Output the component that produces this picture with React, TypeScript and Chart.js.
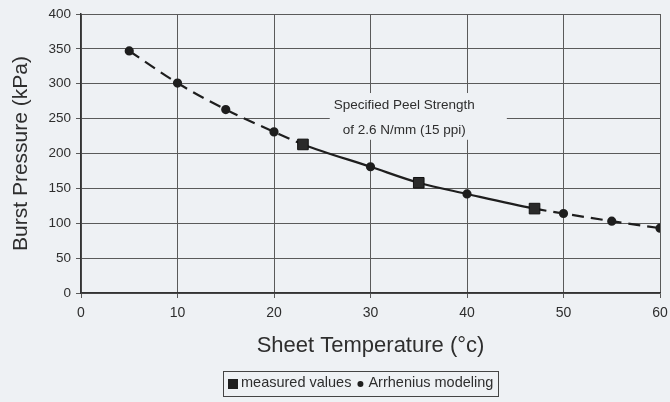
import React, { useEffect, useRef } from "react";
import { Chart, registerables } from "chart.js";

Chart.register(...registerables);

const modelTemps = [5, 10, 15, 20, 23, 30, 35, 40, 47, 50, 55, 60];
const modelPressure = [347, 301, 263, 231, 213, 181, 158, 142, 121, 114, 103, 93];
const measuredTemps = [23, 35, 47];
const measuredPressure = [213, 158, 121];
const solidFrom = 23;
const solidTo = 47;
const noteLines = ["Specified Peel Strength", "of 2.6 N/mm (15 ppi)"];
const noteAt = { x: 33.5, y1: 269.5, y2: 234 };

const BG = "#eef1f4";
const INK = "#2e2e2e";
const FONT = "'Liberation Sans', Arial, sans-serif";

const notePlugin = {
  id: "note",
  afterDatasetsDraw(chart: any) {
    const { ctx, scales } = chart;
    const x = scales.x.getPixelForValue(noteAt.x);
    const ys = [scales.y.getPixelForValue(noteAt.y1), scales.y.getPixelForValue(noteAt.y2)];
    ctx.save();
    ctx.font = `13.5px ${FONT}`;
    ctx.textAlign = "center";
    ctx.textBaseline = "middle";
    const w = Math.max(...noteLines.map((t: string) => ctx.measureText(t).width));
    ctx.fillStyle = BG;
    ctx.fillRect(x - w / 2 - 4, ys[0] - 12, w + 36, ys[1] - ys[0] + 22);
    ctx.fillStyle = INK;
    noteLines.forEach((t: string, i: number) => ctx.fillText(t, x, ys[i]));
    ctx.restore();
  },
};

// legend drawn at the bottom, centred under the plot
const legendPlugin = {
  id: "boxLegend",
  afterDraw(chart: any) {
    const { ctx } = chart;
    const labels = chart.data.datasets.map((d: any) => d.label);
    ctx.save();
    ctx.font = `14.5px ${FONT}`;
    ctx.textBaseline = "middle";
    const sq = 10;
    const dotR = 3;
    const w0 = ctx.measureText(labels[0]).width;
    const w1 = ctx.measureText(labels[1]).width;
    const total = 5 + sq + 3 + w0 + 6 + dotR * 2 + 5 + w1 + 5;
    const cx = 361;
    const cy = 383;
    const left = Math.round(cx - total / 2);
    const top = cy - 12.5;
    ctx.fillStyle = BG;
    ctx.fillRect(left, top, total, 25);
    ctx.strokeStyle = "#444";
    ctx.lineWidth = 1;
    ctx.strokeRect(left + 0.5, Math.round(top) + 0.5, Math.round(total), 25);
    let x = left + 5;
    ctx.fillStyle = "#1e1e1e";
    ctx.fillRect(x, cy - sq / 2 + 1, sq, sq);
    x += sq + 3;
    ctx.fillStyle = INK;
    ctx.fillText(labels[0], x, cy);
    x += w0 + 6;
    ctx.fillStyle = "#1e1e1e";
    ctx.beginPath();
    ctx.arc(x + dotR, cy + 1, dotR, 0, Math.PI * 2);
    ctx.fill();
    x += dotR * 2 + 5;
    ctx.fillStyle = INK;
    ctx.fillText(labels[1], x, cy);
    ctx.restore();
  },
};

const bgPlugin = {
  id: "bg",
  beforeDraw(chart: any) {
    const { ctx, width, height } = chart;
    ctx.save();
    ctx.fillStyle = BG;
    ctx.fillRect(0, 0, width, height);
    ctx.restore();
  },
};

export default function App() {
  const ref = useRef<HTMLCanvasElement>(null);
  useEffect(() => {
    document.body.style.margin = "0";
    document.body.style.background = BG;
    const chart = new Chart(ref.current as HTMLCanvasElement, {
      type: "scatter",
      data: {
        datasets: [
          {
            label: "measured values",
            data: measuredTemps.map((x, i) => ({ x, y: measuredPressure[i] })),
            showLine: false,
            pointStyle: "rect",
            pointRadius: 7.5,
            backgroundColor: "#2a2a2a",
            borderColor: "#111",
            borderWidth: 1,
            order: 0,
          },
          {
            label: "Arrhenius modeling",
            data: modelTemps.map((x, i) => ({ x, y: modelPressure[i] })),
            showLine: true,
            cubicInterpolationMode: "monotone",
            borderColor: "#1e1e1e",
            backgroundColor: "#1e1e1e",
            borderWidth: 2.2,
            pointStyle: "circle",
            pointRadius: modelTemps.map((t) => (measuredTemps.includes(t) ? 0 : 3.5)),
            segment: {
              borderDash: (c: any) =>
                c.p0.parsed.x >= solidFrom && c.p1.parsed.x <= solidTo ? [] : [12, 7],
            },
            order: 1,
          },
        ],
      },
      options: {
        animation: false,
        responsive: false,
        layout: { padding: { left: 0, right: 0, top: 14, bottom: 39 } },
        plugins: {
          legend: { display: false },
          tooltip: { enabled: false },
        },
        scales: {
          x: {
            type: "linear",
            min: 0,
            max: 60,
            afterFit: (s: any) => {
              s.height = 70;
              s.paddingRight = 10;
              s.paddingLeft = 0;
            },
            ticks: { stepSize: 10, color: INK, font: { family: FONT, size: 14 }, padding: 7 },
            grid: { color: "#5a5a5a", lineWidth: 1, tickLength: 5 },
            border: { color: "#333", width: 1.5 },
            title: {
              display: true,
              text: "Sheet Temperature (°c)",
              color: INK,
              font: { family: FONT, size: 22 },
              padding: { top: 0, bottom: 4 },
            },
          },
          y: {
            min: 0,
            max: 400,
            afterFit: (s: any) => {
              s.width = 81;
            },
            ticks: { stepSize: 50, color: INK, font: { family: FONT, size: 13.5 }, padding: 5 },
            grid: { color: "#5a5a5a", lineWidth: 1, tickLength: 5 },
            border: { color: "#333", width: 1.5 },
            title: {
              display: true,
              text: "Burst Pressure (kPa)",
              color: INK,
              font: { family: FONT, size: 21 },
              padding: { top: 9, bottom: 0 },
            },
          },
        },
      },
      plugins: [bgPlugin, notePlugin, legendPlugin],
    } as any);
    return () => chart.destroy();
  }, []);
  return (
    <div style={{ width: 670, height: 402 }}>
      <canvas ref={ref} width={670} height={402} />
    </div>
  );
}
